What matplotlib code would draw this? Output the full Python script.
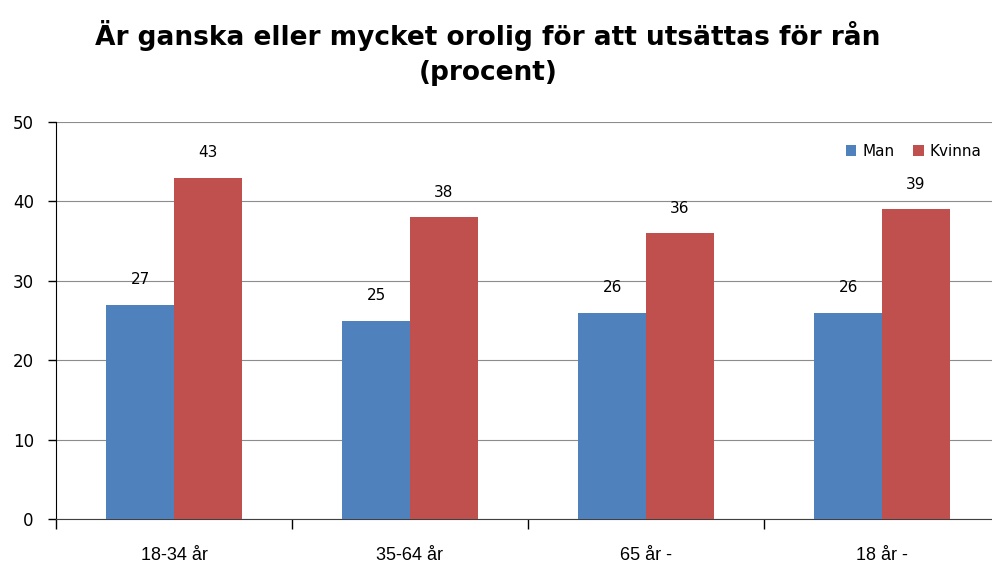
import matplotlib
matplotlib.use('Agg')
import matplotlib.pyplot as plt
import numpy as np

categories = ["18-34 år", "35-64 år", "65 år -", "18 år -"]
man = [27, 25, 26, 26]
kvinna = [43, 38, 36, 39]
yticks = [0, 10, 20, 30, 40, 50]

BLUE = "#4F81BD"
RED = "#C0504D"
plt.rcParams['font.family'] = ['DejaVu Sans']

fig = plt.figure(figsize=(9.92, 5.63), dpi=100)
ax = fig.add_axes([56 / 992, 1 - 519 / 563, 944 / 992, 397 / 563])

x = np.arange(len(categories))
w = 0.287
b1 = ax.bar(x - w / 2, man, w, color=BLUE, label="Man", zorder=3)
b2 = ax.bar(x + w / 2, kvinna, w, color=RED, label="Kvinna", zorder=3)
for bars, vals in ((b1, man), (b2, kvinna)):
    for r, v in zip(bars, vals):
        ax.text(r.get_x() + r.get_width() / 2, v + 2.2, str(v), ha="center", va="bottom",
                fontsize=11, color="black")

ax.set_xlim(-0.5, len(categories) - 0.5)
ax.set_ylim(0, 50)
ax.set_yticks(yticks)
ax.tick_params(axis="y", labelsize=12, length=6, width=1, pad=10)
ax.set_xticks(np.arange(len(categories) + 1) - 0.5)
ax.set_xticklabels([])
ax.tick_params(axis="x", which="major", length=7, width=1, direction="out")
ax.set_xticks(x, minor=True)
ax.set_xticklabels(categories, minor=True, fontsize=13,
                   family=['Liberation Sans Narrow', 'Liberation Sans', 'DejaVu Sans'])
ax.tick_params(axis="x", which="minor", length=0, pad=20)
ax.grid(axis="y", color="#8c8c8c", linewidth=0.8, zorder=0)
for s in ("top", "right"):
    ax.spines[s].set_visible(False)
ax.spines["left"].set_color("black")
ax.spines["bottom"].set_color("#404040")

ax.legend(loc="upper right", bbox_to_anchor=(0.995, 0.98), ncol=2, frameon=False, fontsize=11,
          handlelength=0.7, handleheight=0.7, handletextpad=0.4, columnspacing=1.2)

fig.text(0.492, 0.905, "Är ganska eller mycket orolig för att utsättas för rån\n(procent)",
         ha="center", va="center", fontsize=19, fontweight="bold", linespacing=1.45)

fig.savefig("out.png", dpi=100)
